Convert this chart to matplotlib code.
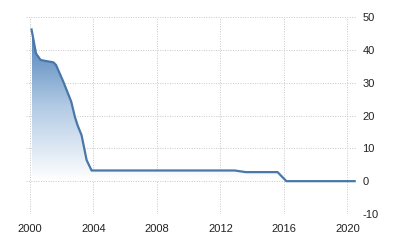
import matplotlib.pyplot as plt
import numpy as np
from matplotlib.colors import LinearSegmentedColormap

# (decimal years, percent)
years = [2000.10, 2000.38, 2000.67, 2001.0, 2001.47, 2001.64, 2002.1, 2002.6,
         2002.83, 2003.0, 2003.25, 2003.57, 2003.88, 2005.0, 2008.0, 2012.9,
         2013.6, 2015.6, 2016.15, 2018.0, 2020.45]
values = [46.2, 38.9, 36.9, 36.6, 36.2, 35.4, 30.3, 24.2,
          19.6, 17.0, 14.0, 6.4, 3.25, 3.25, 3.25, 3.25,
          2.75, 2.75, 0.0, 0.0, 0.0]
xticks = [2000, 2004, 2008, 2012, 2016, 2020]
yticks = [-10, 0, 10, 20, 30, 40, 50]

line_color = "#4877a8"

plt.rcParams["axes.unicode_minus"] = False
plt.rcParams["font.family"] = ["Liberation Sans", "DejaVu Sans"]

fig = plt.figure(figsize=(4, 2.5), dpi=100)
ax = fig.add_axes([26 / 400, 36 / 250, 331 / 400, 197 / 250])

x = np.array(years)
y = np.array(values)

# gradient fill under the line
poly = ax.fill_between(x, y, 0, color="none", lw=0)
cmap = LinearSegmentedColormap.from_list("fade", ["#ffffff", "#b3cbe5", "#4c80b8"])
grad = np.linspace(0, 1, 256).reshape(-1, 1)
img = ax.imshow(grad, cmap=cmap, origin="lower", aspect="auto",
                extent=[x.min(), x.max(), 0, 45], zorder=1)
img.set_clip_path(poly.get_paths()[0], transform=ax.transData)

ax.plot(x, y, color=line_color, lw=1.6, zorder=3)

ax.set_xlim(1999.75, 2020.6)
ax.set_ylim(-10, 50)
ax.set_xticks(xticks)
ax.set_yticks(yticks)
ax.grid(True, color="#c8c8c8", linestyle=(0, (1, 1.5)), linewidth=0.7)
ax.set_axisbelow(True)
for s in ax.spines.values():
    s.set_visible(False)
ax.yaxis.tick_right()
ax.tick_params(axis="both", length=0, labelsize=8, colors="#222222")
ax.tick_params(axis="y", pad=4)
ax.tick_params(axis="x", pad=7)

fig.savefig("out.png", dpi=100)
